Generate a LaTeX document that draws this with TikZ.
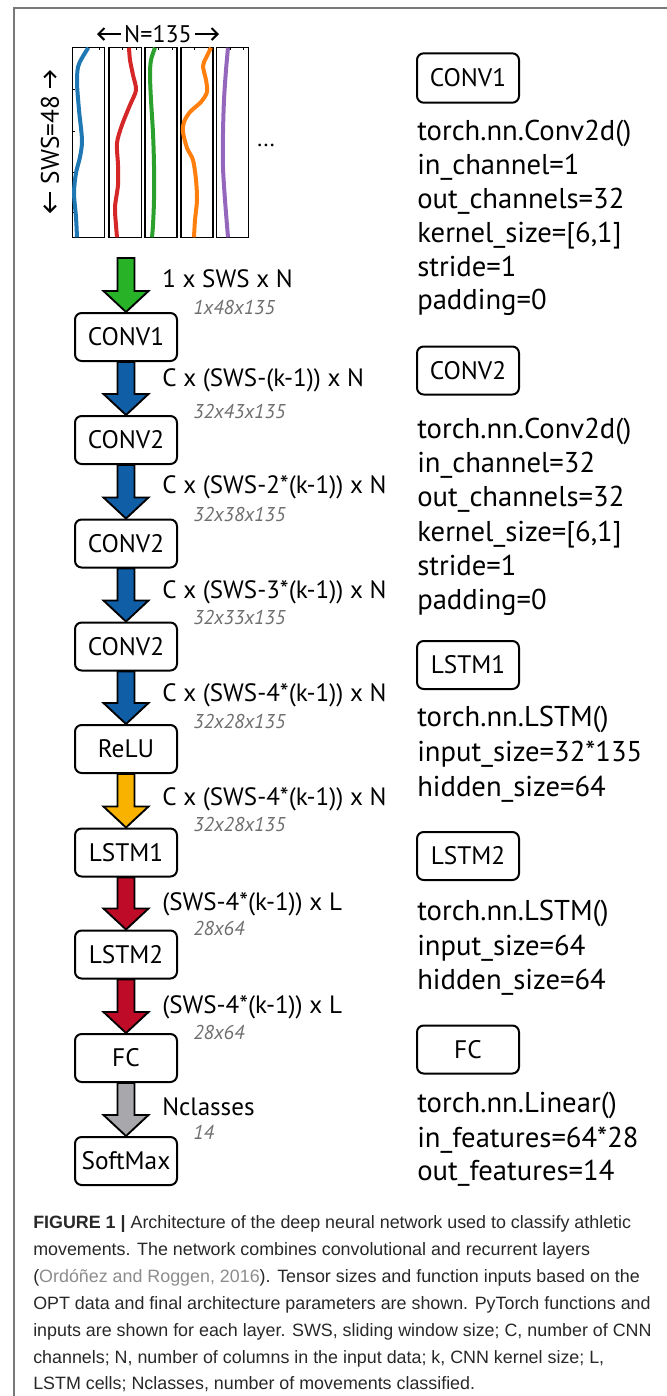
\documentclass[tikz,border=0pt]{standalone}
\usepackage{fontspec}
\setmainfont{PT Sans}
\newfontfamily\capfont{Liberation Sans}
\usetikzlibrary{calc,arrows.meta}
\pgfdeclarelayer{background}
\pgfsetlayers{background,main}
\definecolor{framegray}{RGB}{120,120,120}
\definecolor{agreen}{RGB}{40,178,40}
\definecolor{ablue}{RGB}{16,94,166}
\definecolor{ayellow}{RGB}{250,178,0}
\definecolor{ared}{RGB}{190,12,40}
\definecolor{agray}{RGB}{168,168,172}
\definecolor{subgray}{RGB}{110,110,110}
\definecolor{cblue}{RGB}{31,119,180}
\definecolor{cred}{RGB}{214,39,40}
\definecolor{cgreen}{RGB}{44,160,44}
\definecolor{corange}{RGB}{255,127,14}
\definecolor{cpurple}{RGB}{148,103,189}
\definecolor{captext}{RGB}{40,40,40}
\definecolor{citegray}{RGB}{140,140,140}
\newcommand\blockarrow[3]{%
  \draw[arrowline, fill=#1] ($(#2)+(-8.5,0)$) -- ($(#3)+(-8.5,-21)$) -- ($(#3)+(-22.5,-21)$) -- (#3)
    -- ($(#3)+(22.5,-21)$) -- ($(#3)+(8.5,-21)$) -- ($(#2)+(8.5,0)$) -- cycle;}
\begin{document}
\begin{tikzpicture}[x=0.75pt,y=-0.75pt,
  box/.style={draw, line width=1.5pt, rounded corners=5pt, minimum width=76.5pt, minimum height=36pt, inner sep=0pt, font=\fontsize{19}{21}\selectfont},
  arrowline/.style={draw=black, line width=1.4pt, line join=miter},
  lab/.style={anchor=west, inner sep=0pt, text height=13.2pt, text depth=0pt, font=\fontsize{18.8}{21}\selectfont},
  sub/.style={anchor=west, inner sep=0pt, text height=10.4pt, text depth=0pt, text=subgray, font=\fontsize{15}{17}\selectfont\itshape},
  param/.style={anchor=west, inner sep=0pt, text height=15pt, text depth=0pt, font=\fontsize{21.5}{23}\selectfont},
  captxt/.style={anchor=west, inner sep=0pt, text height=9.6pt, text depth=0pt, text=captext, font=\capfont\fontsize{13.4}{15}\selectfont},
  dimarrow/.style={line width=1.5pt, -{Straight Barb[length=4.5pt,width=9pt]}},
  curve/.style={line width=3pt}
]
\useasboundingbox (0,0) rectangle (667,1396);
% frame
\draw[framegray, line width=1.5pt] (14,1396) -- (14,8) -- (667,8);

% input data panels
\foreach \xa/\xb in {72.7/104.7, 109/141.7, 145/177, 181/213, 216.7/248.7}{
  \draw[line width=1pt] (\xa,47.7) rectangle (\xb,237.3);
  \draw[line width=0.5pt] (\xa+13.5,47.7) -- ++(0,2) (\xa+27,47.7) -- ++(0,2);
}
\foreach \yy in {89,131,172,212}{\draw[line width=0.5pt] (72.7,\yy) -- ++(2,0);}
\draw[cblue, curve] plot[smooth] coordinates {(88.3,47.7) (82,58) (78,67) (77,83) (79,110) (82,140) (80,157) (76,173) (74,193) (76,217) (77,237.3)};
\draw[cred, curve] plot[smooth] coordinates {(129,47.7) (130,60) (133,75) (136,90) (130,105) (122,125) (117,143) (118,165) (118,185) (115,207) (116,225) (117,237.3)};
\draw[cgreen, curve] plot[smooth] coordinates {(155,47.7) (151,60) (150,75) (151,100) (153,133) (154,165) (154,200) (153,225) (152,237.3)};
\draw[corange, curve] plot[smooth] coordinates {(211,47.7) (206,58) (203,66) (206,80) (207,92) (201,102) (190,112) (184,122) (183,132) (187,148) (193,160) (196,180) (197,200) (195,220) (194,237.3)};
\draw[cpurple, curve] plot[smooth] coordinates {(228,47.7) (226,70) (224,100) (223,133) (223,167) (225,200) (228,237.3)};
\node[inner sep=0pt, font=\fontsize{17}{18}\selectfont] (dots) at (266,145) {...};

% dimension labels
\node[inner sep=0pt, font=\fontsize{18}{20}\selectfont] (ntxt) at (158,34) {N=135};
\coordinate (nleft) at (97,34);
\coordinate (nright) at (219,34);
\draw[dimarrow] ($(ntxt.west)+(-3,0)$) -- (nleft);
\draw[dimarrow] ($(ntxt.east)+(3,0)$) -- (nright);
\node[inner sep=0pt, rotate=90, font=\fontsize{19}{21}\selectfont] (swstxt) at (50,140) {SWS=48};
\coordinate (stop) at (50,70);
\coordinate (sbot) at (50,213);
\draw[dimarrow] ($(swstxt.east)+(0,-8)$) -- (stop);
\draw[dimarrow] ($(swstxt.west)+(0,8)$) -- (sbot);

% chain
\node[box] (b1) at (126,337) {CONV1};
\node[box] (b2) at (126,440) {CONV2};
\node[box] (b3) at (126,543.5) {CONV2};
\node[box] (b4) at (126,646.5) {CONV2};
\node[box] (b5) at (126,749) {ReLU};
\node[box] (b6) at (126,852.5) {LSTM1};
\node[box] (b7) at (126,954.5) {LSTM2};
\node[box] (b8) at (126,1058) {FC};
\node[box] (b9) at (126,1161) {SoftMax};
\coordinate (in) at (126,258);

\begin{pgfonlayer}{background}
\blockarrow{agreen}{in}{b1.north}
\blockarrow{ablue}{b1.south}{b2.north}
\blockarrow{ablue}{b2.south}{b3.north}
\blockarrow{ablue}{b3.south}{b4.north}
\blockarrow{ablue}{b4.south}{b5.north}
\blockarrow{ayellow}{b5.south}{b6.north}
\blockarrow{ared}{b6.south}{b7.north}
\blockarrow{ared}{b7.south}{b8.north}
\blockarrow{agray}{b8.south}{b9.north}
\end{pgfonlayer}

\node[lab] (l1) at (162,279) {1 x SWS x N};
\node[sub] (s1) at (193,308) {1x48x135};
\node[lab] (l2) at (162,378) {C x (SWS-(k-1)) x N};
\node[sub] (s2) at (193,412) {32x43x135};
\node[lab] (l3) at (162,485) {C x (SWS-2*(k-1)) x N};
\node[sub] (s3) at (193,515) {32x38x135};
\node[lab] (l4) at (162,590) {C x (SWS-3*(k-1)) x N};
\node[sub] (s4) at (193,618) {32x33x135};
\node[lab] (l5) at (162,693) {C x (SWS-4*(k-1)) x N};
\node[sub] (s5) at (193,722) {32x28x135};
\node[lab] (l6) at (162,797) {C x (SWS-4*(k-1)) x N};
\node[sub] (s6) at (193,825) {32x28x135};
\node[lab] (l7) at (162,902) {(SWS-4*(k-1)) x L};
\node[sub] (s7) at (193,929) {28x64};
\node[lab] (l8) at (162,1005) {(SWS-4*(k-1)) x L};
\node[sub] (s8) at (193,1033) {28x64};
\node[lab] (l9) at (162,1107) {Nclasses};
\node[sub] (s9) at (193,1133) {14};

% right side parameters
\node[box, minimum height=37pt] (r1) at (468,78) {CONV1};
\node[param] (r1a) at (417,130) {torch.nn.Conv2d()};
\node[param] (r1b) at (417,164) {in\_channel=1};
\node[param] (r1c) at (417,198) {out\_channels=32};
\node[param] (r1d) at (417,232) {kernel\_size=[6,1]};
\node[param] (r1e) at (417,266) {stride=1};
\node[param] (r1f) at (417,299) {padding=0};

\node[box] (r2) at (468,370.5) {CONV2};
\node[param] (r2a) at (417,428) {torch.nn.Conv2d()};
\node[param] (r2b) at (417,462) {in\_channel=32};
\node[param] (r2c) at (417,496.5) {out\_channels=32};
\node[param] (r2d) at (417,531) {kernel\_size=[6,1]};
\node[param] (r2e) at (417,565) {stride=1};
\node[param] (r2f) at (417,599.5) {padding=0};

\node[box] (r3) at (468,665) {LSTM1};
\node[param] (r3a) at (417,716) {torch.nn.LSTM()};
\node[param] (r3b) at (417,751) {input\_size=32*135};
\node[param] (r3c) at (417,786) {hidden\_size=64};

\node[box] (r4) at (468,856) {LSTM2};
\node[param] (r4a) at (417,910) {torch.nn.LSTM()};
\node[param] (r4b) at (417,945) {input\_size=64};
\node[param] (r4c) at (417,979) {hidden\_size=64};

\node[box] (r5) at (468,1049.5) {FC};
\node[param] (r5a) at (417,1102) {torch.nn.Linear()};
\node[param] (r5b) at (417,1137) {in\_features=64*28};
\node[param] (r5c) at (417,1170) {out\_features=14};

% caption
\node[captxt] (cap1) at (33,1222) {\textbf{FIGURE 1 |} Architecture of the deep neural network used to classify athletic};
\node[captxt] (cap2) at (33,1249) {movements. The network combines convolutional and recurrent layers};
\node[captxt] (cap3) at (33,1276) {(\textcolor{citegray}{Ordóñez and Roggen, 2016}). Tensor sizes and function inputs based on the};
\node[captxt] (cap4) at (33,1303) {OPT data and final architecture parameters are shown. PyTorch functions and};
\node[captxt] (cap5) at (33,1330) {inputs are shown for each layer. SWS, sliding window size; C, number of CNN};
\node[captxt] (cap6) at (33,1357) {channels; N, number of columns in the input data; k, CNN kernel size; L,};
\node[captxt] (cap7) at (33,1383) {LSTM cells; Nclasses, number of movements classified.};
\end{tikzpicture}
\end{document}
